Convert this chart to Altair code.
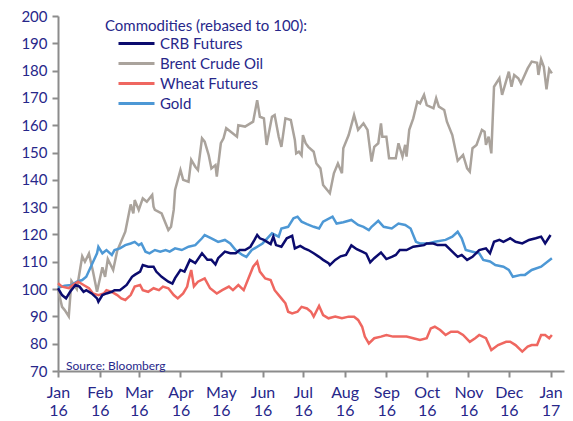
import altair as alt
import pandas as pd

series_names = ["CRB Futures", "Brent Crude Oil", "Wheat Futures", "Gold"]
series_colors = ["#0b0b6e", "#aaa39c", "#ef6760", "#4d98d5"]
legend_title = "Commodities (rebased to 100):"
source_text = "Source: Bloomberg"
text_color = "#27278a"
axis_color = "#8c8c8c"

# day offsets from 1 Jan 2016 and values
brent_day = [0, 3, 5, 8, 10, 14, 18, 20, 23, 26, 29, 33, 35, 37, 41, 44, 50, 54, 56, 57, 60, 63, 66, 70, 71, 72,
             77, 80, 82, 84, 86, 87, 91, 93, 97, 99, 102, 104, 107, 109, 112, 114, 117, 118, 121, 123, 125, 130,
             133, 134, 139, 145, 148, 150, 153, 155, 159, 161, 164, 166, 169, 173, 176, 177, 179, 181, 182, 184,
             186, 190, 192, 195, 197, 202, 205, 208, 211, 212, 216, 220, 223, 227, 230, 233, 235, 238, 240, 241,
             244, 246, 251, 253, 256, 258, 259, 261, 264, 267, 269, 272, 274, 279, 281, 283, 287, 289, 293, 297,
             301, 304, 306, 308, 311, 315, 317, 318, 320, 322, 324, 328, 330, 335, 337, 339, 342, 344, 349, 352,
             356, 357, 359, 361, 363, 365, 367]
brent_val = [100, 93.5, 92.3, 90, 103, 100, 112, 110, 113, 106.4, 99, 108, 104.5, 111, 107, 114, 121, 131, 127.7,
             132.6, 129, 133.2, 132, 134.5, 130.2, 129, 127.7, 124, 121.6, 122.8, 129, 136.3, 143.6, 140, 139.3,
             147.3, 144.8, 143.6, 155.2, 154, 149, 144.2, 145.4, 141.2, 153.4, 155.2, 158.9, 157, 155.8, 160,
             159.5, 161.3, 169.2, 163.1, 162.5, 152.8, 163.1, 163.7, 155.8, 152.1, 162.5, 161.9, 154.6, 149.7,
             150.3, 149, 156.4, 153.4, 152.1, 150.3, 146, 144.2, 138.1, 135.1, 142.4, 146, 142.4, 151.6, 156.4,
             163.7, 158.3, 160.7, 158.3, 146.7, 152.1, 153.4, 160.7, 155.8, 155.8, 147.9, 147.9, 153.4, 148.5,
             152.8, 148.5, 158.3, 162.5, 168.6, 168, 171.1, 167.4, 166.2, 169.9, 166.8, 165.6, 161.3, 156.4,
             147, 149.1, 144.2, 143, 151.6, 152.8, 158.3, 157.6, 152.8, 155.8, 149.7, 174.1, 177.2, 171.1, 179.6,
             174.1, 178.4, 177.2, 175.3, 180.8, 183.3, 182.9, 178.4, 184.1, 181.4, 173.1, 180.5, 179]

gold_day = [0, 5, 10, 14, 18, 21, 25, 29, 30, 33, 36, 40, 42, 46, 50, 54, 57, 60, 62, 65, 68, 72, 76, 80, 83, 87,
            92, 97, 102, 107, 109, 114, 119, 124, 128, 132, 137, 140, 144, 152, 159, 164, 166, 171, 175, 178, 181,
            185, 190, 194, 197, 204, 207, 212, 218, 223, 227, 231, 233, 238, 242, 248, 253, 258, 262, 266, 269, 275,
            280, 288, 293, 297, 300, 303, 308, 313, 316, 321, 325, 331, 335, 338, 344, 347, 352, 359, 367]
gold_val = [100.5, 101.2, 101.5, 102.7, 103.3, 104.5, 108.8, 113.1, 115.5, 113.1, 114.3, 112.5, 114.3, 114.9, 116.1,
            116.7, 117.3, 116.1, 116.7, 113.7, 113.1, 114.3, 113.7, 114.3, 113.7, 114.9, 114.3, 115.5, 116.1, 118.6,
            119.8, 118.6, 117.3, 118, 116.7, 114.3, 112.5, 111.8, 114.3, 116.7, 120.4, 119.2, 122.2, 122.8, 125.9,
            126.5, 124.7, 123.8, 122.8, 122.2, 124.7, 126.5, 124, 124.5, 125.3, 123.5, 122.8, 121.6, 122.8, 125,
            122.8, 122.2, 124, 123.5, 122.2, 117.3, 116.7, 116.7, 117.3, 118, 119.2, 121, 118.6, 114.3, 113.7, 113.1,
            110.7, 110.1, 108.8, 108.2, 107, 104.5, 105.2, 105.2, 107, 108.2, 111.3]

crb_day = [0, 3, 6, 9, 13, 16, 19, 21, 25, 29, 30, 33, 36, 40, 42, 46, 51, 55, 57, 61, 63, 67, 71, 73, 77, 82, 85,
           87, 91, 94, 98, 102, 107, 111, 114, 117, 119, 124, 128, 132, 135, 139, 143, 146, 148, 150, 153, 158, 160,
           162, 166, 170, 174, 176, 180, 183, 186, 190, 194, 197, 201, 202, 206, 210, 214, 218, 222, 226, 229, 232,
           235, 240, 244, 248, 251, 254, 259, 264, 272, 274, 279, 282, 288, 293, 297, 300, 304, 308, 313, 318, 321,
           324, 328, 331, 336, 340, 345, 350, 355, 359, 362, 366]
crb_val = [100.3, 97.8, 96.6, 99, 101.5, 100.9, 99, 99.6, 98.4, 96.6, 95.4, 97.8, 98.4, 99, 99.6, 99.6, 101.5,
           104.5, 105.2, 106.4, 108.8, 108.2, 108.2, 106.4, 104.5, 102.7, 102, 104, 107, 106.4, 110.7, 109.5, 113.1,
           110.7, 110.7, 109, 111.3, 113.7, 113.1, 113.1, 114.3, 114.3, 115.5, 118, 119.8, 118.6, 118, 116.5, 119.2,
           116.1, 115.5, 118.6, 119.5, 114.9, 115.8, 114.9, 114.3, 113.1, 111.8, 110.7, 109.5, 108.8, 110.7, 112,
           112.5, 116, 114.6, 113.7, 113, 109.8, 111.3, 113.4, 111, 111.8, 112.5, 114.3, 114.3, 115.5, 116.1,
           116.7, 116.7, 116.1, 116.1, 113.7, 111.8, 112.5, 110.7, 111.8, 114.3, 114.9, 113.1, 117.3, 118, 117.3,
           118.6, 117.3, 116.7, 118, 118.6, 119.2, 116.7, 119.8]

wheat_day = [0, 3, 8, 11, 15, 19, 23, 26, 30, 34, 36, 40, 44, 47, 50, 54, 57, 61, 63, 67, 71, 75, 78, 82, 86, 89,
             93, 96, 97, 99, 101, 104, 109, 113, 118, 122, 127, 130, 134, 138, 142, 145, 148, 150, 154, 158, 161,
             166, 169, 171, 174, 178, 181, 185, 188, 190, 194, 197, 201, 206, 211, 216, 220, 223, 226, 228, 231,
             235, 240, 244, 249, 254, 259, 264, 269, 274, 277, 280, 284, 288, 292, 297, 301, 306, 310, 313, 318,
             322, 327, 333, 336, 340, 345, 349, 352, 356, 359, 362, 365, 367]
wheat_val = [102.1, 100.9, 100.3, 101.5, 102.7, 101.5, 100.3, 98.4, 97.8, 98.4, 99.6, 99, 97.8, 96.6, 96, 97.8,
             100.9, 101.5, 99.6, 99, 100.3, 99.6, 100.9, 100.3, 97.8, 96.6, 98.4, 100.9, 103.3, 107, 101, 102.7,
             103.9, 100.3, 98.4, 99.6, 100.9, 99.6, 101.5, 99.6, 104.5, 108.2, 110, 106.4, 103.9, 103.3, 99.6, 96.6,
             94.8, 91.7, 91.1, 91.7, 93.5, 92.9, 91.7, 89.9, 93.8, 90.5, 89.3, 89.9, 89.3, 89.9, 89.9, 88.7, 86.2,
             82.6, 80.1, 82, 82.6, 83.2, 82.6, 82.6, 82.6, 82, 81.4, 82, 85.6, 86.2, 85, 83.2, 84.4, 84.4, 83.2,
             80.7, 82, 83.2, 82, 77.7, 79.5, 80.7, 80.7, 79.5, 77.1, 78.9, 79.5, 79.5, 83.2, 83.2, 82, 83.2]

month_ticks = [(2016, m) for m in range(1, 13)] + [(2017, 1)]
y_ticks = list(range(70, 201, 10))


def frame(name, days, vals):
    base = pd.Timestamp("2016-01-01")
    return pd.DataFrame({
        "date": [base + pd.Timedelta(days=d) for d in days],
        "value": vals,
        "series": name,
    })


df = pd.concat([
    frame("Brent Crude Oil", brent_day, brent_val),
    frame("Gold", gold_day, gold_val),
    frame("Wheat Futures", wheat_day, wheat_val),
    frame("CRB Futures", crb_day, crb_val),
], ignore_index=True)
df["order"] = df["series"].map({"Brent Crude Oil": 0, "Gold": 1, "Wheat Futures": 2, "CRB Futures": 3})

lines = alt.Chart(df).mark_line(strokeWidth=2.5).encode(
    x=alt.X(
        "date:T",
        scale=alt.Scale(domain=[alt.DateTime(year=2016, month=1, date=1),
                                alt.DateTime(year=2017, month=1, date=11)]),
        axis=alt.Axis(
            title=None,
            values=[alt.DateTime(year=y, month=m, date=1) for y, m in month_ticks],
            labelExpr="[timeFormat(datum.value, '%b'), timeFormat(datum.value, '%y')]",
            labelFontSize=16,
            labelLineHeight=18,
            labelPadding=7,
            labelFlush=False,
            labelOverlap=False,
            grid=False,
        ),
    ),
    y=alt.Y(
        "value:Q",
        scale=alt.Scale(domain=[70, 200], nice=False, zero=False),
        axis=alt.Axis(title=None, values=y_ticks, labelFontSize=15, labelPadding=5, grid=False),
    ),
    color=alt.Color(
        "series:N",
        scale=alt.Scale(domain=series_names, range=series_colors),
        legend=alt.Legend(
            title=legend_title,
            orient="none",
            legendX=47,
            legendY=3,
            padding=0,
            titleFontSize=15,
            titleFontWeight="normal",
            titleColor=text_color,
            titleLimit=400,
            titlePadding=2,
            symbolType="M-3,0H3",
            symbolSize=144,
            symbolStrokeWidth=3,
            symbolOffset=24,
            labelFontSize=15,
            labelColor=text_color,
            labelOffset=16,
            labelLimit=300,
            rowPadding=4,
        ),
    ),
    detail="series:N",
    order="order:Q",
)

source = alt.Chart(pd.DataFrame({"t": [source_text]})).mark_text(
    align="left", baseline="middle", fontSize=12, color=text_color
).encode(text="t:N", x=alt.value(8), y=alt.value(350))

chart = alt.layer(lines, source).properties(
    width=506,
    height=355,
    padding={"left": 50, "top": 8, "right": 1, "bottom": 47},
    autosize=alt.AutoSizeParams(type="none"),
).configure(
    font="Lato",
).configure_view(
    stroke=None,
).configure_axis(
    domainColor=axis_color,
    domainWidth=2,
    tickColor=axis_color,
    tickWidth=2,
    tickSize=6,
    labelColor=text_color,
    labelFont="Lato",
)

chart.save("out.html", embed_options={"renderer": "svg", "actions": False})
